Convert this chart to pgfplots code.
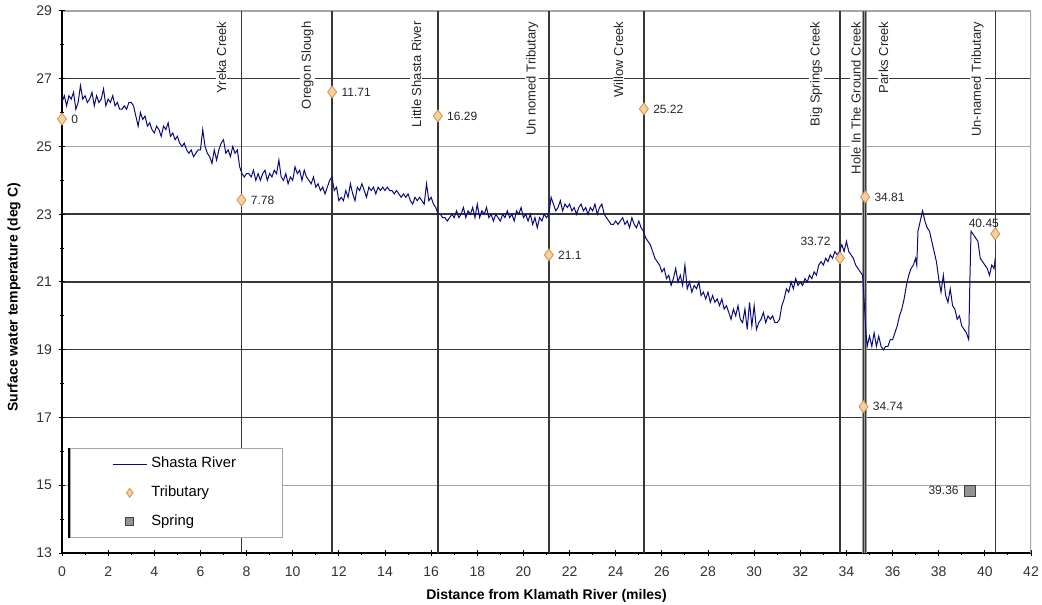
\documentclass[border=0pt]{standalone}
\usepackage{fontspec}
\setmainfont{Liberation Sans}
\usepackage{pgfplots}
\pgfplotsset{compat=1.18}
\definecolor{river}{RGB}{10,10,128}
\definecolor{tribfill}{RGB}{252,206,152}
\definecolor{tribdraw}{RGB}{205,145,85}
\definecolor{gridgray}{RGB}{165,165,165}
\definecolor{griddark}{RGB}{55,55,55}
\begin{document}
\begin{tikzpicture}
\begin{axis}[
  scale only axis, width=484.5pt, height=271pt,
  xmin=0, xmax=42, ymin=13, ymax=29,
  xtick={0,2,...,42}, ytick={13,15,...,29},
  minor x tick num=1, minor y tick num=1,
  axis lines*=left, axis line style={black, line width=0.6pt},
  tick align=center, major tick length=3pt, minor tick length=1.5pt,
  tick style={black, line width=0.5pt},
  ymajorgrids, major grid style={gridgray, line width=0.6pt},
  extra y ticks={17,19,21,23,27}, extra y tick labels={},
  extra y tick style={grid=major, major grid style={griddark, line width=0.75pt}},
  /pgf/number format/assume math mode=true,
  ticklabel style={font=\fontsize{7}{8}\selectfont, color=black!80},
  xticklabel style={yshift=-2pt},
  every axis x label/.style={at={(axis description cs:0.5,-0.079)}, anchor=center},
  every axis y label/.style={at={(axis description cs:-0.0495,0.472)}, rotate=90, anchor=center},
  label style={font=\fontsize{7}{8}\selectfont\bfseries},
  xlabel={Distance from Klamath River (miles)},
  ylabel={Surface water temperature (deg C)},
  legend style={name=mylegend, at={(0.008,0.194)}, anchor=north west, draw=gray!70, fill=white,
    font=\fontsize{7.4}{8.5}\selectfont, inner xsep=21pt, inner ysep=2.5pt,
    row sep=3.5pt, cells={anchor=west}},
]
% vertical lines at the tributaries
\addplot[forget plot, ycomb, griddark, line width=0.7pt] coordinates {
  (7.78,29) (11.71,29) (16.29,29) (21.1,29) (25.22,29) (33.72,29) (40.45,29)};
\addplot[forget plot, ycomb, gridgray, line width=0.6pt] coordinates {(42,29)};
% vertical labels
\addplot[forget plot, draw=none, mark=none, nodes near coords, point meta=explicit symbolic,
  visualization depends on={value \thisrow{dx}\as\dx},
  visualization depends on={value \thisrow{anc}\as\anc},
  every node near coord/.append style={xshift=\dx pt, yshift=-4.5pt, anchor=\anc, rotate=90,
    fill=white, inner sep=0.6pt, font=\fontsize{6.5}{7}\selectfont, text=black!85}]
  table[col sep=comma, row sep=\\, meta=lab] {
  x,y,lab,anc,dx\\
  7.78,29,Yreka Creek,south east,-6.8\\
  11.71,29,Oregon Slough,south east,-8.5\\
  16.29,29,Little Shasta River,south east,-7.5\\
  21.1,29,Un nomed Tributary,south east,-4.5\\
  25.22,29,Willow Creek,south east,-9.5\\
  33.72,29,Big Springs Creek,south east,-8\\
  34.74,29,Hole In The Ground Creek,south east,-0.6\\
  34.81,29,Parks Creek,north east,6\\
  40.45,29,Un-named Tributary,south east,-5\\
};
% double line at 34.74 / 34.81
\addplot[forget plot, ycomb, gray!75, line width=2.2pt] coordinates {(34.775,29)};
\addplot[forget plot, ycomb, griddark, line width=0.35pt] coordinates {(34.73,29) (34.82,29)};
% Shasta River
\addplot[river, line width=0.5pt, mark=none] coordinates {
(0.0,26.3)(0.1,26.5)(0.2,26.2)(0.3,26.5)(0.4,26.4)(0.5,26.6)(0.6,26.1)(0.7,26.3)(0.8,26.8)(0.9,26.4)
(1.0,26.5)(1.1,26.3)(1.2,26.4)(1.3,26.6)(1.4,26.2)(1.5,26.5)(1.6,26.3)(1.7,26.4)(1.8,26.7)(1.9,26.2)
(2.0,26.4)(2.1,26.3)(2.2,26.5)(2.3,26.2)(2.4,26.3)(2.5,26.1)(2.6,26.1)(2.7,26.2)(2.8,26.1)(2.9,26.3)
(3.0,26.3)(3.1,26.2)(3.2,25.9)(3.3,25.6)(3.4,26.0)(3.5,25.8)(3.6,25.9)(3.7,25.6)(3.8,25.7)(3.9,25.5)
(4.0,25.4)(4.1,25.6)(4.2,25.5)(4.3,25.3)(4.4,25.6)(4.5,25.5)(4.6,25.7)(4.7,25.3)(4.8,25.4)(4.9,25.2)
(5.0,25.3)(5.1,25.1)(5.2,25.0)(5.3,25.1)(5.4,24.9)(5.5,24.8)(5.6,24.9)(5.7,24.7)(5.8,24.8)(5.9,24.9)
(6.0,24.9)(6.1,25.5)(6.2,25.0)(6.3,24.8)(6.4,24.7)(6.5,24.5)(6.6,24.9)(6.7,24.6)(6.8,24.9)(6.9,25.1)
(7.0,25.2)(7.1,24.8)(7.2,24.9)(7.3,24.7)(7.4,25.0)(7.5,24.8)(7.6,24.9)(7.7,24.4)(7.8,24.2)(7.9,24.1)
(8.0,24.2)(8.1,24.2)(8.2,24.1)(8.3,24.3)(8.4,24.0)(8.5,24.2)(8.6,24.0)(8.7,24.2)(8.8,24.3)(8.9,24.0)
(9.0,24.2)(9.1,24.1)(9.2,24.3)(9.3,24.2)(9.4,24.6)(9.5,24.1)(9.6,24.0)(9.7,24.2)(9.8,23.9)(9.9,24.1)
(10.0,24.0)(10.1,24.4)(10.2,24.2)(10.3,24.3)(10.4,24.0)(10.5,24.3)(10.6,24.1)(10.7,24.0)(10.8,23.9)(10.9,24.1)
(11.0,23.8)(11.1,23.9)(11.2,23.7)(11.3,23.8)(11.4,23.6)(11.5,23.8)(11.6,24.0)(11.7,24.1)(11.8,23.7)(11.9,23.8)
(12.0,23.4)(12.1,23.5)(12.2,23.4)(12.3,23.7)(12.4,23.5)(12.5,23.9)(12.6,23.6)(12.7,23.4)(12.8,23.8)(12.9,23.7)
(13.0,23.9)(13.1,23.7)(13.2,23.5)(13.3,23.8)(13.4,23.7)(13.5,23.8)(13.6,23.6)(13.7,23.8)(13.8,23.7)(13.9,23.8)
(14.0,23.7)(14.1,23.8)(14.2,23.7)(14.3,23.7)(14.4,23.6)(14.5,23.7)(14.6,23.6)(14.7,23.5)(14.8,23.6)(14.9,23.5)
(15.0,23.6)(15.1,23.4)(15.2,23.3)(15.3,23.5)(15.4,23.4)(15.5,23.5)(15.6,23.4)(15.7,23.3)(15.8,23.9)(15.9,23.4)
(16.0,23.5)(16.1,23.3)(16.2,23.2)(16.3,23.0)(16.4,23.0)(16.5,22.9)(16.6,22.9)(16.7,22.8)(16.8,22.9)(16.9,23.0)
(17.0,22.9)(17.1,23.1)(17.2,22.9)(17.3,23.0)(17.4,23.2)(17.5,22.9)(17.6,23.1)(17.7,23.0)(17.8,23.2)(17.9,22.9)
(18.0,23.3)(18.1,22.9)(18.2,23.1)(18.3,23.0)(18.4,23.2)(18.5,22.9)(18.6,23.0)(18.7,22.8)(18.8,23.0)(18.9,22.9)
(19.0,22.8)(19.1,23.0)(19.2,22.9)(19.3,23.1)(19.4,22.9)(19.5,23.0)(19.6,22.8)(19.7,23.1)(19.8,23.0)(19.9,23.2)
(20.0,22.9)(20.1,23.0)(20.2,22.8)(20.3,23.0)(20.4,22.7)(20.5,22.9)(20.6,22.6)(20.7,22.9)(20.8,22.8)(20.9,23.0)
(21.0,22.9)(21.1,23.0)(21.2,23.5)(21.3,23.3)(21.4,23.1)(21.5,23.2)(21.6,23.4)(21.7,23.1)(21.8,23.3)(21.9,23.2)
(22.0,23.3)(22.1,23.1)(22.2,23.2)(22.3,23.0)(22.4,23.2)(22.5,23.3)(22.6,23.1)(22.7,23.2)(22.8,23.0)(22.9,23.2)
(23.0,23.1)(23.1,23.3)(23.2,23.0)(23.3,23.2)(23.4,23.3)(23.5,23.0)(23.6,22.9)(23.7,22.8)(23.8,22.7)(23.9,22.7)
(24.0,22.8)(24.1,22.7)(24.2,22.8)(24.3,22.9)(24.4,22.7)(24.5,22.8)(24.6,22.6)(24.7,22.9)(24.8,22.7)(24.9,22.6)
(25.0,22.8)(25.1,22.6)(25.2,22.5)(25.3,22.3)(25.4,22.2)(25.5,22.1)(25.6,21.9)(25.7,21.7)(25.8,21.6)(25.9,21.5)
(26.0,21.3)(26.1,21.4)(26.2,21.1)(26.3,21.2)(26.4,20.9)(26.5,21.1)(26.6,21.4)(26.7,21.0)(26.8,21.2)(26.9,20.9)
(27.0,21.5)(27.1,20.8)(27.2,21.0)(27.3,20.7)(27.4,20.9)(27.5,20.8)(27.6,21.0)(27.7,20.6)(27.8,20.7)(27.9,20.5)
(28.0,20.7)(28.1,20.4)(28.2,20.6)(28.3,20.4)(28.4,20.5)(28.5,20.3)(28.6,20.5)(28.7,20.2)(28.8,20.3)(28.9,20.1)
(29.0,19.9)(29.1,20.2)(29.2,20.0)(29.3,20.3)(29.4,19.9)(29.5,19.8)(29.6,20.2)(29.7,19.6)(29.8,20.4)(29.9,19.7)
(30.0,20.3)(30.1,19.6)(30.2,19.8)(30.3,19.9)(30.4,20.1)(30.5,19.8)(30.6,20.0)(30.7,19.9)(30.8,20.0)(30.9,19.8)
(31.0,19.8)(31.1,19.9)(31.2,20.3)(31.3,20.5)(31.4,20.8)(31.5,20.7)(31.6,21.0)(31.7,20.8)(31.8,21.1)(31.9,20.9)
(32.0,21.0)(32.1,20.9)(32.2,21.1)(32.3,21.0)(32.4,21.2)(32.5,21.1)(32.6,21.3)(32.7,21.2)(32.8,21.5)(32.9,21.6)
(33.0,21.5)(33.1,21.7)(33.2,21.6)(33.3,21.8)(33.4,21.7)(33.5,21.9)(33.6,21.8)(33.7,21.9)(33.8,22.1)(33.9,21.9)
(34.0,22.2)(34.1,21.9)(34.2,21.8)(34.3,21.7)(34.4,21.5)(34.5,21.4)(34.6,21.3)(34.7,21.2)
(34.85,19.5)(34.9,19.1)(35.0,19.4)(35.1,19.1)(35.2,19.5)(35.3,19.1)(35.4,19.4)(35.5,19.1)(35.6,19.0)(35.7,19.1)
(35.8,19.1)(35.9,19.3)(36.0,19.3)(36.1,19.5)(36.2,19.7)(36.3,20.0)(36.4,20.2)(36.5,20.5)(36.6,20.9)(36.7,21.2)
(36.8,21.4)(36.9,21.5)(37.0,21.7)(37.05,21.5)(37.1,22.5)(37.2,22.8)(37.3,23.1)(37.4,22.8)(37.5,22.6)(37.6,22.5)
(37.7,22.2)(37.8,21.9)(37.9,21.6)(38.0,21.1)(38.1,20.7)(38.2,21.2)(38.3,20.6)(38.4,20.4)(38.5,20.8)(38.6,20.3)
(38.7,20.2)(38.8,19.9)(38.9,20.0)(39.0,19.7)(39.1,19.6)(39.2,19.5)(39.3,19.3)(39.35,21.0)(39.4,22.5)(39.5,22.4)
(39.6,22.3)(39.7,22.2)(39.8,21.7)(39.9,21.6)(40.0,21.5)(40.1,21.4)(40.2,21.2)(40.3,21.5)(40.4,21.4)(40.45,21.7)
};
\addlegendentry{Shasta River}
% tributaries
\addplot[only marks, mark=diamond*, mark size=3pt, mark options={fill=tribfill, draw=tribdraw, line width=0.4pt},
  legend image post style={mark size=2.2pt},
  nodes near coords, point meta=explicit symbolic,
  visualization depends on={value \thisrow{dx}\as\dx},
  visualization depends on={value \thisrow{dy}\as\dy},
  visualization depends on={value \thisrow{anc}\as\anc},
  every node near coord/.append style={xshift=\dx pt, yshift=\dy pt, anchor=\anc,
    inner sep=0.5pt, font=\fontsize{6}{7}\selectfont, text=black!85}]
  table[col sep=comma, row sep=\\, meta=lab] {
  x,y,lab,anc,dx,dy\\
  0,25.81,0,west,4,0\\
  7.78,23.42,7.78,west,4,0\\
  11.71,26.61,11.71,west,4,0\\
  16.29,25.90,16.29,west,4,0\\
  21.1,21.80,21.1,west,4,0\\
  25.22,26.11,25.22,west,4,0\\
  33.72,21.71,33.72,south east,-4,5.5\\
  34.74,17.32,34.74,west,4,0\\
  34.81,23.51,34.81,west,4,0\\
  40.45,22.42,40.45,south east,2.5,2.5\\
};
\addlegendentry{Tributary}
% spring
\addplot[only marks, mark=square*, mark size=2.8pt, mark options={fill=gray!85, draw=black!75, line width=0.5pt},
  legend image post style={mark size=2pt},
  nodes near coords, point meta=explicit symbolic,
  every node near coord/.append style={anchor=east, xshift=-5pt, yshift=0pt,
    inner sep=0.5pt, font=\fontsize{6}{7}\selectfont, text=black!85}]
  table[col sep=comma, row sep=\\, meta=lab] {
  x,y,lab\\
  39.36,14.84,39.36\\
};
\addlegendentry{Spring}
\end{axis}
\draw[black, line width=1.3pt] ([xshift=-0.3pt]mylegend.north west) -- ([xshift=-0.3pt]mylegend.south west);
\pgfresetboundingbox
\path[use as bounding box] ([xshift=-31pt,yshift=-25.5pt]current axis.south west)
  rectangle ([xshift=5.5pt,yshift=5.5pt]current axis.north east);
\end{tikzpicture}
\end{document}
